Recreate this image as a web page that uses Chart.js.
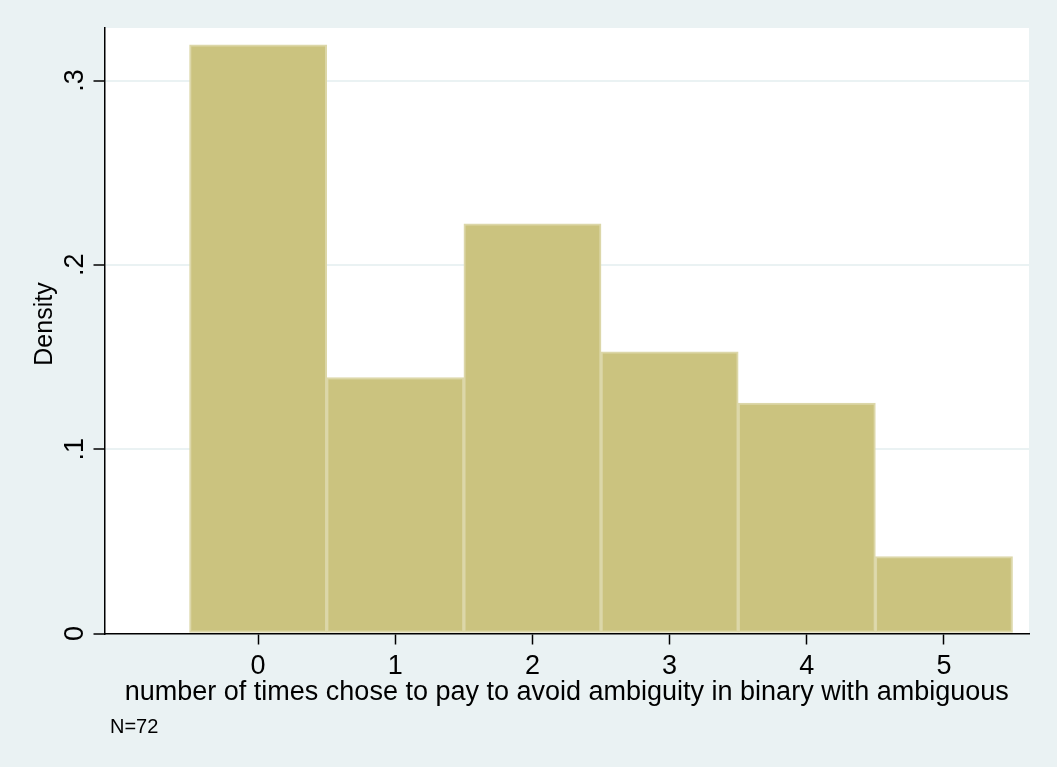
<!DOCTYPE html>
<html>
<head>
<meta charset="utf-8">
<script src="https://cdn.jsdelivr.net/npm/chart.js@4/dist/chart.umd.min.js"></script>
<style>
  html, body { margin: 0; padding: 0; background: #eaf2f3; }
  #wrap { width: 1057px; height: 767px; }
</style>
</head>
<body>
<div id="wrap"><canvas id="hist"></canvas></div>
<script>
// histogram data (density per bin)
const binCenters = [0, 1, 2, 3, 4, 5];
const densities = [0.3194, 0.1389, 0.2222, 0.1528, 0.125, 0.0417];
const xTicks = [0, 1, 2, 3, 4, 5];
const yTicks = [0, 0.1, 0.2, 0.3];
const yTickLabels = ['0', '.1', '.2', '.3'];
const xTitle = 'number of times chose to pay to avoid ambiguity in binary with ambiguous';
const yTitle = 'Density';
const note = 'N=72';

const FONT = "'Liberation Sans', Arial, Helvetica, sans-serif";
const BG = '#eaf2f3';

// background, white plot region, rotated y labels and titles
const stataLook = {
    id: 'stataLook',
    beforeDraw(chart) {
        const ctx = chart.ctx;
        const a = chart.chartArea;
        ctx.save();
        ctx.fillStyle = BG;
        ctx.fillRect(0, 0, chart.width, chart.height);
        ctx.fillStyle = '#ffffff';
        ctx.fillRect(a.left, a.top, a.right - a.left, a.bottom - a.top);
        ctx.restore();
    },
    afterDraw(chart) {
        const ctx = chart.ctx;
        const a = chart.chartArea;
        const y = chart.scales.y;
        ctx.save();
        ctx.fillStyle = '#000';

        // y tick labels, rotated
        ctx.font = '27px ' + FONT;
        ctx.textAlign = 'center';
        ctx.textBaseline = 'alphabetic';
        yTicks.forEach((v, i) => {
            ctx.save();
            ctx.translate(83, y.getPixelForValue(v));
            ctx.rotate(-Math.PI / 2);
            ctx.fillText(yTickLabels[i], 0, 0);
            ctx.restore();
        });

        // y title
        ctx.save();
        ctx.translate(52, 324);
        ctx.rotate(-Math.PI / 2);
        ctx.font = '25px ' + FONT;
        ctx.fillText(yTitle, 0, 0);
        ctx.restore();

        // x title
        ctx.font = '27px ' + FONT;
        ctx.textAlign = 'center';
        ctx.fillText(xTitle, (a.left + a.right) / 2, 700);

        // note
        ctx.font = '20px ' + FONT;
        ctx.textAlign = 'left';
        ctx.fillText(note, 110, 733);
        ctx.restore();
    }
};

new Chart(document.getElementById('hist'), {
    type: 'bar',
    data: {
        datasets: [{
            data: binCenters.map((c, i) => ({ x: c, y: densities[i] })),
            backgroundColor: '#cbc37f',
            borderColor: '#dcd7a9',
            borderWidth: 2,
            borderSkipped: false,
            barPercentage: 1,
            categoryPercentage: 1
        }]
    },
    options: {
        responsive: true,
        maintainAspectRatio: false,
        animation: false,
        layout: { padding: { top: 28, right: 28, left: 0, bottom: 0 } },
        plugins: {
            legend: { display: false },
            tooltip: { enabled: false }
        },
        scales: {
            x: {
                type: 'linear',
                min: -1.12,
                max: 5.62,
                offset: false,
                afterBuildTicks: s => { s.ticks = xTicks.map(v => ({ value: v })); },
                afterFit: s => { s.height = 133.5; },
                ticks: {
                    color: '#000',
                    font: { family: FONT, size: 27 },
                    padding: 6,
                    maxRotation: 0
                },
                grid: {
                    offset: false,
                    drawOnChartArea: false,
                    drawTicks: true,
                    tickLength: 11,
                    tickColor: '#000',
                    tickWidth: 1.5
                },
                border: { display: true, color: '#000', width: 1.5 }
            },
            y: {
                min: 0,
                max: 0.3285,
                afterBuildTicks: s => { s.ticks = yTicks.map(v => ({ value: v })); },
                afterFit: s => { s.width = 104.5; },
                ticks: { display: false },
                grid: {
                    color: ctx => ctx.tick && ctx.tick.value === 0 ? 'rgba(0,0,0,0)' : BG,
                    lineWidth: 2,
                    drawTicks: true,
                    tickLength: 11,
                    tickColor: '#000',
                    tickWidth: 1.5
                },
                border: { display: true, color: '#000', width: 1.5 }
            }
        }
    },
    plugins: [stataLook]
});
</script>
</body>
</html>
